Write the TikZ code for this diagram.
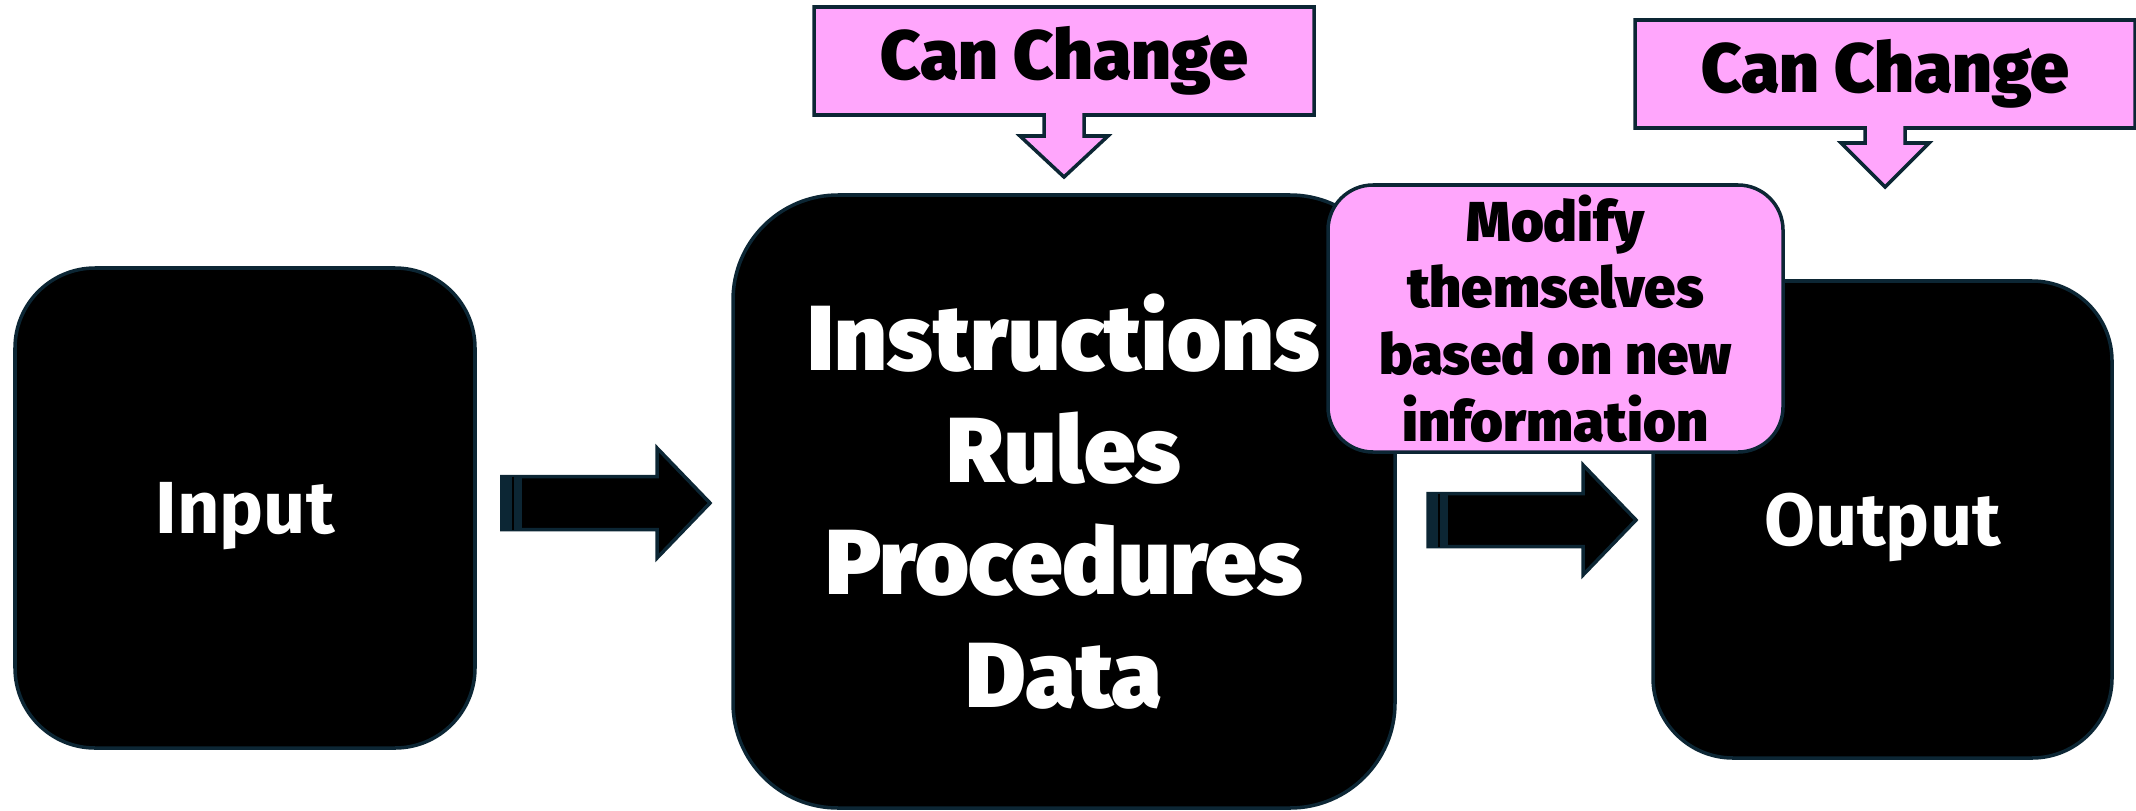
\documentclass[tikz,border=0pt]{standalone}
\usepackage{fontspec}
\newfontfamily\blackfont{Fira Sans Black}
\newfontfamily\iofont{Fira Sans}
\usepackage{tikz}
\usetikzlibrary{
  calc,%
  positioning,%
  backgrounds
}
\definecolor{chgpink}{RGB}{255,166,252}
\definecolor{edgenavy}{RGB}{12,38,52}
\tikzset{>=latex}
\tikzset{stagebox/.style={draw=edgenavy, line width=1pt, fill=black, text=white,
    align=center, inner sep=0pt, outer sep=0pt}}
\tikzset{notebox/.style={draw=edgenavy, line width=1pt, fill=chgpink, text=black,
    align=center, inner sep=0pt, outer sep=0pt}}
\tikzset{blockarrow/.style={draw=edgenavy, line width=1pt, fill=black}}
\tikzset{chglabel/.style={inner sep=0pt, outer sep=0pt, minimum width=5cm,
    minimum height=1.08cm, font=\blackfont\fontsize{19.8}{23}\selectfont}}

\begin{document}
\begin{tikzpicture}
  \useasboundingbox (0,0) rectangle (21.36,8.10);
  % the three stages
  \node[stagebox, minimum width=4.6cm, minimum height=4.8cm, rounded corners=0.8cm,
    text depth=0pt, font=\iofont\bfseries\fontsize{21}{25}\selectfont] (input)
    at (2.45,3.02) {Input};
  \node[stagebox, minimum width=6.62cm, minimum height=6.13cm, rounded corners=1.05cm,
    font=\blackfont\fontsize{26.3}{31.9}\selectfont] (rules) at (10.64,3.085)
    {Instructions\\Rules\\Procedures\\Data};
  \node[stagebox, minimum width=4.59cm, minimum height=4.77cm, rounded corners=0.8cm,
    text depth=0pt, font=\iofont\bfseries\fontsize{21}{25}\selectfont] (output)
    at (18.825,2.905) {Output};
  \node[notebox, minimum width=4.55cm, minimum height=2.67cm, rounded corners=0.45cm,
    font=\blackfont\fontsize{16}{19}\selectfont] (modify) at (15.555,4.915)
    {Modify\\themselves\\based on new\\information};

  % arrows between the stages
  \coordinate (arr1) at (5.02,3.07);
  \coordinate (arr2) at (14.28,2.90);
  \foreach \a in {arr1,arr2} {
    \filldraw[blockarrow] ($(\a)+(0,0.265)$) -- ++(1.55,0) -- ++(0,0.285)
      -- ($(\a)+(2.08,0)$) -- ($(\a)+(1.55,-0.55)$) -- ++(0,0.285)
      -- ($(\a)+(0,-0.265)$) -- cycle;
    \fill[edgenavy] ($(\a)+(0,0.265)$) rectangle ($(\a)+(0.2,-0.265)$);
    \draw[black, line width=0.8pt] ($(\a)+(0.11,0.265)$) -- ++(0,-0.53);
  }

  % callouts
  \node[chglabel] (chg1) at (10.64,7.49) {Can Change};
  \node[chglabel] (chg2) at (18.85,7.36) {Can Change};
  \begin{scope}[on background layer]
    \foreach \c/\s/\h in {chg1/0.21/0.41, chg2/0.15/0.44}
      \filldraw[fill=chgpink, draw=edgenavy, line width=1pt]
        (\c.north west) -- (\c.north east) -- (\c.south east)
        -- ($(\c.south)+(0.2,0)$) -- ++(0,-\s) -- ($(\c.south)+(0.44,-\s)$)
        -- ($(\c.south)+(0,-\s-\h)$) -- ($(\c.south)+(-0.44,-\s)$)
        -- ($(\c.south)+(-0.2,-\s)$) -- ($(\c.south)+(-0.2,0)$)
        -- (\c.south west) -- cycle;
  \end{scope}
\end{tikzpicture}
\end{document}
